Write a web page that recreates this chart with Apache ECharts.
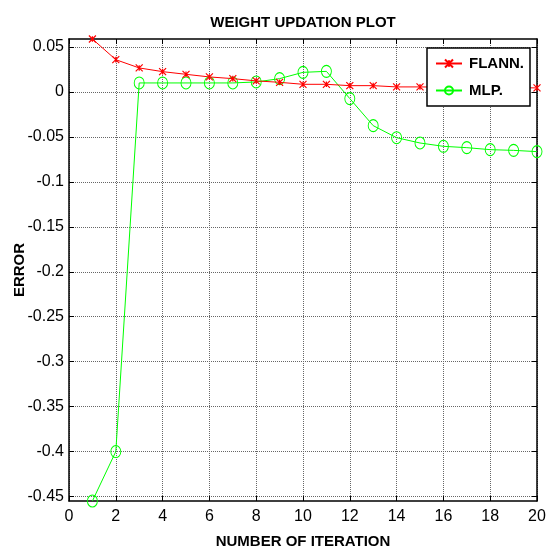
<!DOCTYPE html>
<html>
<head>
<meta charset="utf-8">
<script src="https://cdn.jsdelivr.net/npm/echarts@6/dist/echarts.min.js"></script>
<style>
  html, body { margin: 0; padding: 0; background: #fff; }
  #chart { width: 548px; height: 550px; }
</style>
</head>
<body>
<div id="chart"></div>
<script>
// iterations 1..20
var iterations = [1,2,3,4,5,6,7,8,9,10,11,12,13,14,15,16,17,18,19,20]
var flann = [0.059,0.036,0.0268,0.0227,0.0197,0.0168,0.0149,0.0124,0.0108,0.0086,0.0086,0.0071,0.0071,0.0057,0.0057,0.0054,0.0051,0.005,0.0048,0.0046]
var mlp = [-0.455,-0.4,0.0101,0.0101,0.0101,0.0101,0.0101,0.0112,0.0149,0.0219,0.023,-0.0073,-0.0374,-0.0508,-0.0567,-0.0604,-0.0619,-0.0641,-0.0649,-0.0663]
var yTicks = [-0.45,-0.4,-0.35,-0.3,-0.25,-0.2,-0.15,-0.1,-0.05,0,0.05]
var xTicks = [0,2,4,6,8,10,12,14,16,18,20]

var FONT = '"Liberation Sans Narrow", "Liberation Sans", Arial, sans-serif'
var yMin = -0.455, yMax = 0.059

function pairs(xs, ys)
{
    var out = []
    for (var i = 0; i < xs.length; i++) out.push([xs[i], ys[i]])
    return out
}

var gridLine = { show: true, lineStyle: { color: '#666', type: [1, 1], width: 1 } }
var frameLine = { show: true, onZero: false, lineStyle: { color: '#000', width: 1.5 } }

var chart = echarts.init(document.getElementById('chart'))

var option = {
    animation: false,
    backgroundColor: '#fff',
    title: {
        text: 'WEIGHT UPDATION PLOT',
        left: 298,
        textAlign: 'center',
        top: 10,
        textStyle: { fontFamily: FONT, fontSize: 15, fontWeight: 'bold', color: '#000' }
    },
    grid: { left: 69, right: 11, top: 39, bottom: 49, containLabel: false, outerBoundsMode: 'none' },
    legend: {
        orient: 'vertical',
        left: 427,
        top: 48,
        padding: [8, 6, 8, 8],
        itemWidth: 26,
        itemHeight: 10,
        itemGap: 12,
        backgroundColor: '#fff',
        borderColor: '#000',
        borderWidth: 1.5,
        textStyle: { fontFamily: FONT, fontSize: 15, fontWeight: 'bold', color: '#000', padding: [0, 0, 0, 2] },
        data: ['FLANN.', 'MLP.']
    },
    xAxis: [
        {
            type: 'value', min: 0, max: 20, position: 'bottom',
            name: 'NUMBER OF ITERATION', nameLocation: 'middle', nameGap: 33,
            nameTextStyle: { fontFamily: FONT, fontSize: 15, fontWeight: 'bold', color: '#000' },
            axisLine: frameLine,
            axisTick: { show: true, inside: true, length: 5, customValues: xTicks, lineStyle: { color: '#000' } },
            axisLabel: { customValues: xTicks, fontFamily: FONT, fontSize: 16, color: '#000', margin: 8 },
            splitLine: gridLine
        },
        {
            type: 'value', min: 0, max: 20, position: 'top',
            axisLine: frameLine,
            axisTick: { show: true, inside: true, length: 5, customValues: xTicks, lineStyle: { color: '#000' } },
            axisLabel: { show: false },
            splitLine: { show: false }
        }
    ],
    yAxis: [
        {
            type: 'value', min: yMin, max: yMax, position: 'left',
            name: 'ERROR', nameLocation: 'middle', nameGap: 42, nameMoveOverlap: false,
            nameTextStyle: { fontFamily: FONT, fontSize: 15, fontWeight: 'bold', color: '#000' },
            axisLine: frameLine,
            axisTick: { show: true, inside: true, length: 5, customValues: yTicks, lineStyle: { color: '#000' } },
            axisLabel: {
                customValues: yTicks, fontFamily: FONT, fontSize: 16, color: '#000', margin: 5,
                formatter: function(v) { return String(v) }
            },
            splitLine: gridLine
        },
        {
            type: 'value', min: yMin, max: yMax, position: 'right',
            axisLine: frameLine,
            axisTick: { show: true, inside: true, length: 5, customValues: yTicks, lineStyle: { color: '#000' } },
            axisLabel: { show: false },
            splitLine: { show: false }
        }
    ],
    series: [
        {
            name: 'FLANN.',
            type: 'line',
            xAxisIndex: 0, yAxisIndex: 0,
            data: pairs(iterations, flann),
            clip: false,
            symbol: 'path://M0,0L10,10M10,0L0,10M5,1L5,9',
            symbolSize: 7,
            showAllSymbol: true,
            lineStyle: { color: '#ff0000', width: 1 },
            itemStyle: { color: '#ff0000', borderColor: '#ff0000', borderWidth: 1.2 },
            z: 3
        },
        {
            name: 'MLP.',
            type: 'line',
            xAxisIndex: 0, yAxisIndex: 0,
            data: pairs(iterations, mlp),
            clip: false,
            symbol: 'circle',
            symbolSize: [10, 12],
            showAllSymbol: true,
            lineStyle: { color: '#00ff00', width: 1 },
            itemStyle: { color: 'rgba(0,0,0,0)', borderColor: '#00ff00', borderWidth: 1 },
            z: 2
        }
    ]
}

chart.setOption(option)
</script>
</body>
</html>
